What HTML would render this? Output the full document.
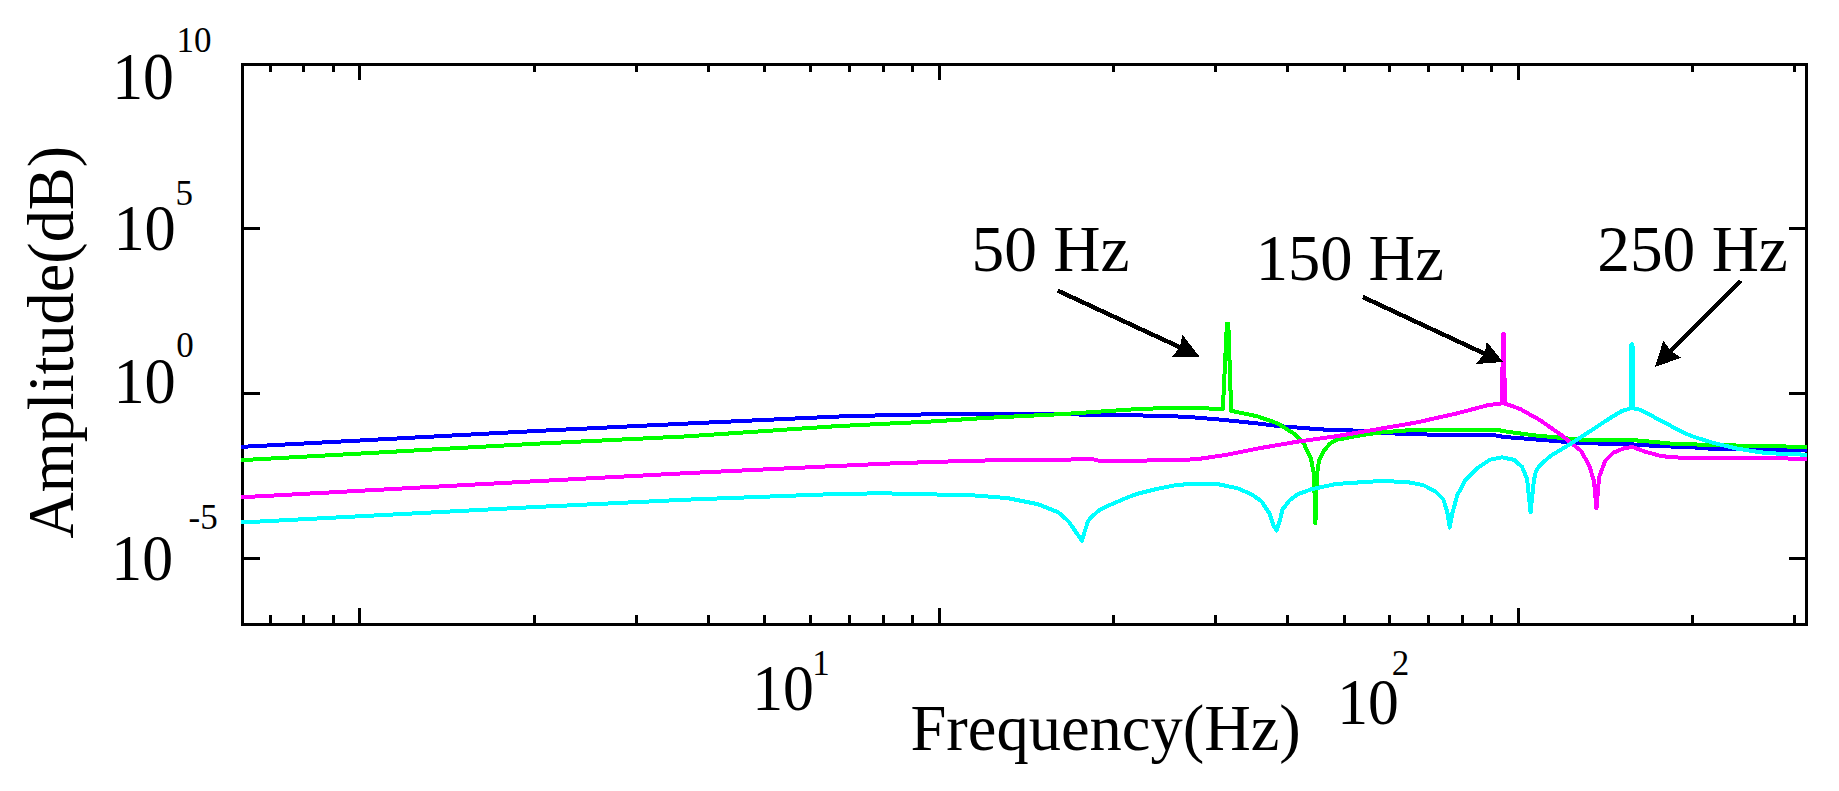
<!DOCTYPE html>
<html lang="en"><head><meta charset="utf-8"><title>Amplitude vs Frequency</title>
<style>html,body{margin:0;padding:0;background:#fff;}body{width:1839px;height:791px;overflow:hidden;}svg{display:block;}text{font-family:"Liberation Serif","Times New Roman",serif;fill:#000;}</style></head><body>
<svg width="1839" height="791" viewBox="0 0 1839 791">
<rect x="0" y="0" width="1839" height="791" fill="#fff"/>
<g fill="#000" shape-rendering="crispEdges">
<rect x="241" y="63" width="1567" height="3"/>
<rect x="241" y="623" width="1567" height="3"/>
<rect x="241" y="63" width="3" height="563"/>
<rect x="1805" y="63" width="3" height="563"/>
<rect x="269" y="66" width="3" height="6"/>
<rect x="269" y="615" width="3" height="8"/>
<rect x="302" y="66" width="3" height="6"/>
<rect x="302" y="615" width="3" height="8"/>
<rect x="332" y="66" width="3" height="6"/>
<rect x="332" y="615" width="3" height="8"/>
<rect x="358" y="66" width="3" height="14"/>
<rect x="358" y="608" width="3" height="15"/>
<rect x="533" y="66" width="3" height="6"/>
<rect x="533" y="615" width="3" height="8"/>
<rect x="635" y="66" width="3" height="6"/>
<rect x="635" y="615" width="3" height="8"/>
<rect x="707" y="66" width="3" height="6"/>
<rect x="707" y="615" width="3" height="8"/>
<rect x="763" y="66" width="3" height="6"/>
<rect x="763" y="615" width="3" height="8"/>
<rect x="809" y="66" width="3" height="6"/>
<rect x="809" y="615" width="3" height="8"/>
<rect x="848" y="66" width="3" height="6"/>
<rect x="848" y="615" width="3" height="8"/>
<rect x="882" y="66" width="3" height="6"/>
<rect x="882" y="615" width="3" height="8"/>
<rect x="911" y="66" width="3" height="6"/>
<rect x="911" y="615" width="3" height="8"/>
<rect x="938" y="66" width="3" height="14"/>
<rect x="938" y="608" width="3" height="15"/>
<rect x="1112" y="66" width="3" height="6"/>
<rect x="1112" y="615" width="3" height="8"/>
<rect x="1214" y="66" width="3" height="6"/>
<rect x="1214" y="615" width="3" height="8"/>
<rect x="1286" y="66" width="3" height="6"/>
<rect x="1286" y="615" width="3" height="8"/>
<rect x="1343" y="66" width="3" height="6"/>
<rect x="1343" y="615" width="3" height="8"/>
<rect x="1388" y="66" width="3" height="6"/>
<rect x="1388" y="615" width="3" height="8"/>
<rect x="1427" y="66" width="3" height="6"/>
<rect x="1427" y="615" width="3" height="8"/>
<rect x="1461" y="66" width="3" height="6"/>
<rect x="1461" y="615" width="3" height="8"/>
<rect x="1490" y="66" width="3" height="6"/>
<rect x="1490" y="615" width="3" height="8"/>
<rect x="1517" y="66" width="3" height="14"/>
<rect x="1517" y="608" width="3" height="15"/>
<rect x="1691" y="66" width="3" height="6"/>
<rect x="1691" y="615" width="3" height="8"/>
<rect x="1793" y="66" width="3" height="6"/>
<rect x="1793" y="615" width="3" height="8"/>
<rect x="244" y="227" width="16" height="3"/>
<rect x="1789" y="227" width="16" height="3"/>
<rect x="244" y="392" width="16" height="3"/>
<rect x="1789" y="392" width="16" height="3"/>
<rect x="244" y="557" width="16" height="3"/>
<rect x="1789" y="557" width="16" height="3"/>
</g>
<g shape-rendering="crispEdges">
<polyline points="241.0,446.9 536.0,431.0 686.0,423.6 836.0,416.6 882.5,415.3 931.0,414.3 1058.5,414.3 1119.0,414.9 1136.0,415.3 1184.5,416.7 1217.0,419.3 1257.3,423.4 1277.6,426.0 1308.0,428.4 1336.0,430.4 1352.0,430.4 1376.4,432.5 1406.8,434.1 1447.2,434.9 1495.8,435.5 1503.8,436.9 1536.0,439.5 1580.9,443.1 1631.4,444.3 1651.7,445.7 1700.0,447.7 1710.6,448.7 1748.5,449.3 1786.4,449.9 1807.0,450.3" fill="none" stroke="#0000ff" stroke-width="4" stroke-linejoin="round" stroke-linecap="butt"/>
<polyline points="241.0,460.2 536.0,443.7 686.0,436.4 836.0,426.2 933.0,421.4 985.7,417.9 1058.5,414.3 1136.0,409.2 1160.3,408.2 1204.8,408.2 1220.0,409.2 1222.8,409.4 1226.9,324.0 1228.3,324.0 1231.2,411.0 1233.0,411.2 1257.3,416.3 1277.6,423.4 1293.7,433.5 1303.9,443.6 1311.0,458.8 1314.0,474.9 1315.4,523.5 1317.0,474.9 1319.0,460.8 1324.0,450.7 1330.0,443.6 1336.0,439.9 1356.2,436.1 1376.4,432.9 1406.8,430.4 1437.0,430.0 1497.8,430.0 1507.9,431.9 1536.0,435.5 1580.9,439.7 1631.4,440.0 1651.7,441.7 1671.9,443.7 1700.0,444.6 1735.8,445.5 1786.4,446.5 1807.0,447.0" fill="none" stroke="#00ff00" stroke-width="4" stroke-linejoin="round" stroke-linecap="butt"/>
<polyline points="241.0,497.3 536.0,481.2 686.0,473.2 836.0,466.0 896.7,463.2 957.4,461.2 997.8,460.2 1062.6,460.2 1078.8,458.8 1093.0,459.2 1099.0,460.8 1136.0,460.6 1182.5,460.2 1202.7,458.4 1227.0,454.7 1257.3,448.6 1297.8,441.6 1336.0,436.3 1376.4,429.4 1416.9,422.4 1457.3,413.3 1487.7,405.2 1502.1,403.3 1502.9,334.2 1504.0,334.2 1504.8,403.5 1520.2,409.0 1540.4,420.4 1560.7,434.6 1570.8,442.7 1580.9,450.8 1589.0,464.9 1594.0,481.1 1596.5,508.4 1599.1,477.1 1605.2,460.9 1613.2,452.8 1625.4,447.7 1633.5,447.3 1645.6,451.8 1661.8,456.2 1679.0,457.6 1761.0,458.1 1807.0,458.8" fill="none" stroke="#ff00ff" stroke-width="4" stroke-linejoin="round" stroke-linecap="butt"/>
<polyline points="241.0,522.5 536.0,507.0 686.0,499.7 836.0,494.0 886.6,493.2 902.8,494.2 947.3,494.6 977.6,495.6 1008.0,498.2 1038.3,504.3 1058.5,512.4 1068.7,521.5 1081.8,540.7 1087.9,521.5 1090.9,517.5 1099.0,510.4 1109.1,505.3 1123.3,499.2 1136.0,494.2 1156.2,489.1 1176.4,485.0 1196.7,483.6 1216.9,484.0 1237.1,488.1 1251.3,494.2 1261.4,501.2 1269.5,513.4 1273.5,525.5 1276.5,530.5 1279.6,521.4 1282.6,509.3 1289.7,500.2 1297.8,494.1 1312.0,489.1 1336.0,484.0 1356.2,482.6 1380.5,481.0 1406.8,482.0 1423.0,485.0 1435.1,491.1 1443.2,499.2 1447.2,511.3 1449.7,527.5 1452.3,513.4 1457.3,495.2 1465.4,480.0 1477.6,467.9 1489.7,459.8 1501.8,457.3 1514.0,459.8 1522.0,466.8 1527.1,479.0 1530.6,512.4 1533.8,481.0 1536.0,470.9 1540.4,464.9 1550.6,455.8 1570.8,443.7 1591.0,430.6 1611.2,417.4 1621.3,411.3 1630.8,408.3 1631.5,344.2 1632.5,344.2 1633.1,408.3 1637.6,408.9 1645.2,412.1 1652.8,416.3 1660.3,420.5 1667.9,424.3 1675.5,428.5 1683.1,432.4 1690.7,435.7 1698.3,438.3 1705.9,440.6 1713.5,442.9 1721.0,444.8 1730.0,446.9 1735.8,448.4 1761.1,452.4 1786.4,454.3 1807.0,454.6" fill="none" stroke="#00ffff" stroke-width="4" stroke-linejoin="round" stroke-linecap="butt"/>
</g>
<g shape-rendering="crispEdges">
<line x1="1057.6" y1="290.6" x2="1185.8" y2="350.0" stroke="#000" stroke-width="4.4"/><polygon points="1199.3,356.5 1182.3,334.6 1180.0,347.2 1171.8,356.9" fill="#000"/>
<line x1="1362.8" y1="297.0" x2="1490.1" y2="356.3" stroke="#000" stroke-width="4.4"/><polygon points="1503.1,362.0 1486.8,341.7 1484.5,353.9 1475.7,364.0" fill="#000"/>
<line x1="1740.6" y1="280.6" x2="1666.0" y2="355.6" stroke="#000" stroke-width="4.4"/><polygon points="1655.0,366.9 1663.4,340.6 1670.7,350.8 1681.3,357.7" fill="#000"/>
</g>
<text transform="translate(112.15,99.38) scale(0.9650,1.0488)" font-size="64">10</text>
<text transform="translate(176.47,51.65) scale(1.0000,1.0000)" font-size="35">10</text>
<text transform="translate(113.39,250.39) scale(0.9758,1.0209)" font-size="64">10</text>
<text transform="translate(175.55,204.55) scale(1.0000,1.0000)" font-size="35">5</text>
<text transform="translate(113.39,402.59) scale(0.9758,1.0256)" font-size="64">10</text>
<text transform="translate(176.30,356.65) scale(1.0000,1.0000)" font-size="35">0</text>
<text transform="translate(111.25,579.78) scale(0.9650,1.0302)" font-size="64">10</text>
<text transform="translate(188.60,529.45) scale(1.0000,1.0000)" font-size="35">-5</text>
<text transform="translate(752.15,710.39) scale(0.9650,1.0233)" font-size="64">10</text>
<text transform="translate(812.30,674.90) scale(1.0000,1.0000)" font-size="35">1</text>
<text transform="translate(1337.26,724.39) scale(0.9632,1.0209)" font-size="64">10</text>
<text transform="translate(1391.65,674.90) scale(1.0000,1.0000)" font-size="35">2</text>
<text transform="translate(971.47,270.89) scale(1.0221,1.0279)" font-size="64">50 Hz</text>
<text transform="translate(1255.70,280.29) scale(1.0084,1.0209)" font-size="64">150 Hz</text>
<text transform="translate(1597.19,270.99) scale(1.0220,1.0163)" font-size="64">250 Hz</text>
<text transform="translate(910.44,750.33) scale(1.0080,1.0086)" font-size="64">Frequency(Hz)</text>
<text transform="translate(72.50,538.75) scale(1.0224,1.0049) rotate(-90)" font-size="64">Amplitude(dB)</text>
</svg></body></html>
